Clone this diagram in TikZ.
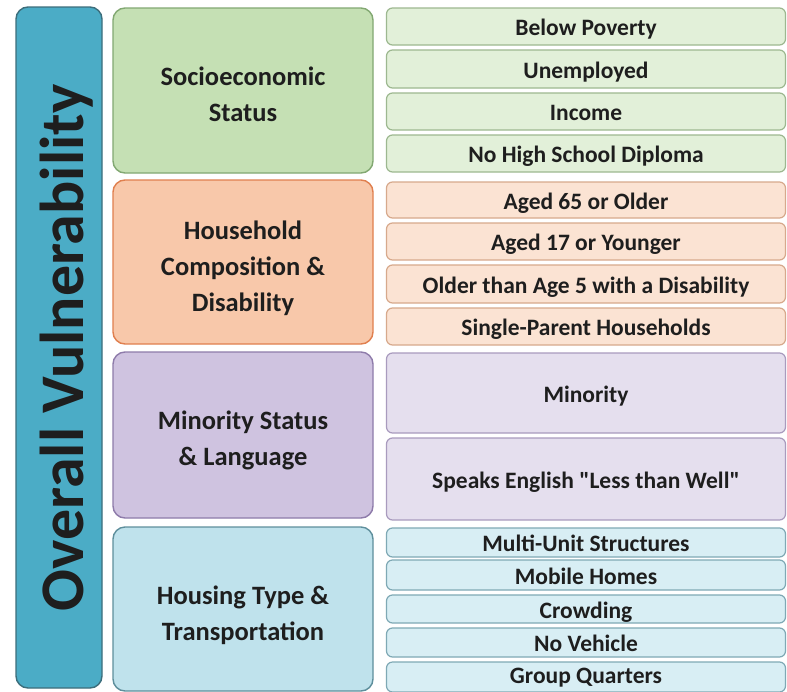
\documentclass[tikz,border=0pt]{standalone}
\usepackage{fontspec}
\setmainfont{Carlito}
\definecolor{barfill}{HTML}{4BACC6}
\definecolor{barline}{HTML}{3C6E7C}
\definecolor{gcat}{HTML}{C5E0B4}
\definecolor{gcatl}{HTML}{82A872}
\definecolor{gitem}{HTML}{E2F0D9}
\definecolor{gitemline}{HTML}{9DB890}
\definecolor{ocat}{HTML}{F8C8AA}
\definecolor{ocatl}{HTML}{E07F4E}
\definecolor{oitem}{HTML}{FBE3D3}
\definecolor{oitemline}{HTML}{D7A98C}
\definecolor{pcat}{HTML}{CFC3E0}
\definecolor{pcatl}{HTML}{8E7BAA}
\definecolor{pitem}{HTML}{E5DFEE}
\definecolor{pitemline}{HTML}{A99BBE}
\definecolor{bcat}{HTML}{BFE2EC}
\definecolor{bcatl}{HTML}{5E8F9C}
\definecolor{bitem}{HTML}{D8EEF4}
\definecolor{bitemline}{HTML}{7FA9B5}
\definecolor{txt}{HTML}{1E1E1E}
\begin{document}
\begin{tikzpicture}[x=1pt,y=-1pt,
  cat/.style={draw, line width=1.4pt, rounded corners=12pt, inner sep=0pt, minimum width=260pt},
  cattext/.style={align=center, text=txt, font=\fontsize{26.5}{36}\selectfont\bfseries, inner sep=0pt},
  item/.style={draw, line width=1.2pt, rounded corners=6pt, align=center, text=txt,
    font=\fontsize{23.5}{28}\selectfont\bfseries, inner sep=0pt, minimum width=399pt,
    text height=20pt, text depth=2pt},
  gi/.style={item, fill=gitem, draw=gitemline},
  oi/.style={item, fill=oitem, draw=oitemline},
  pi/.style={item, fill=pitem, draw=pitemline},
  bi/.style={item, fill=bitem, draw=bitemline}]
\useasboundingbox (0,0) rectangle (787,691);
\clip (0,0) rectangle (787,691);
\fill[white] (0,0) rectangle (787,691);
% left bar
\node[draw=barline, fill=barfill, line width=1.4pt, rounded corners=12pt,
  minimum width=86pt, minimum height=681pt, inner sep=0pt] (bar) at (59,347.5) {};
\node[rotate=90, anchor=base, font=\fontsize{62}{62}\selectfont\bfseries, text=txt] (title) at (83,348) {Overall Vulnerability};
% categories
\node[cat, fill=gcat, draw=gcatl, minimum height=165pt] (ses) at (243,90.5) {};
\node[cattext] (sest) at ([yshift=-3.5pt]ses.center) {Socioeconomic\\Status};
\node[cat, fill=ocat, draw=ocatl, minimum height=164pt] (hh) at (243,262) {};
\node[cattext] (hht) at ([yshift=-6pt]hh.center) {Household\\Composition \&\\Disability};
\node[cat, fill=pcat, draw=pcatl, minimum height=166pt] (min) at (243,435) {};
\node[cattext] (mint) at ([yshift=-5pt]min.center) {Minority Status\\\& Language};
\node[cat, fill=bcat, draw=bcatl, minimum height=164pt] (hous) at (243,609) {};
\node[cattext] (houst) at ([yshift=-6pt]hous.center) {Housing Type \&\\Transportation};
% items: socioeconomic
\node[gi, minimum height=37pt] (i1) at (586,26.5) {Below Poverty};
\node[gi, minimum height=38pt] (i2) at (586,69) {Unemployed};
\node[gi, minimum height=37pt] (i3) at (586,111.5) {Income};
\node[gi, minimum height=37pt] (i4) at (586,153.5) {No High School Diploma};
% household
\node[oi, minimum height=36pt] (i5) at (586,200) {Aged 65 or Older};
\node[oi, minimum height=37pt] (i6) at (586,241.5) {Aged 17 or Younger};
\node[oi, minimum height=38pt] (i7) at (586,284) {Older than Age 5 with a Disability};
\node[oi, minimum height=37pt] (i8) at (586,326.5) {Single-Parent Households};
% minority
\node[pi, minimum height=80pt] (i9) at (586,393) {Minority};
\node[pi, minimum height=82pt] (i10) at (586,479) {Speaks English \textquotedbl Less than Well\textquotedbl};
% housing
\node[bi, minimum height=29pt] (i11) at (586,542.5) {Multi-Unit Structures};
\node[bi, minimum height=30pt] (i12) at (586,575) {Mobile Homes};
\node[bi, minimum height=28pt] (i13) at (586,609) {Crowding};
\node[bi, minimum height=29pt] (i14) at (586,642.5) {No Vehicle};
\node[bi, minimum height=30pt, text height=17pt, text depth=5pt] (i15) at (586,677) {Group Quarters};
\end{tikzpicture}
\end{document}
